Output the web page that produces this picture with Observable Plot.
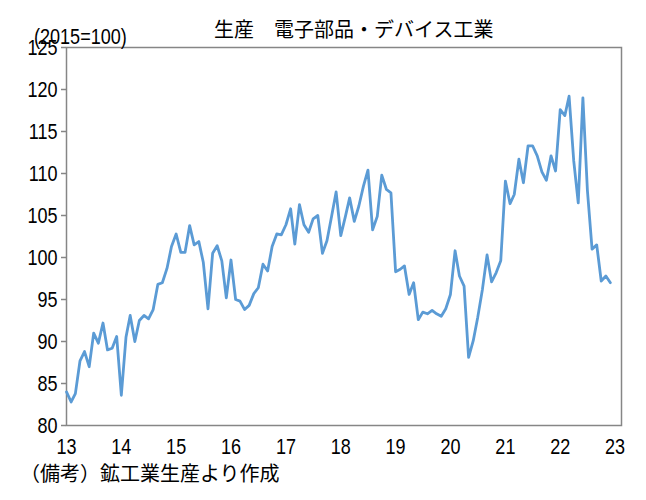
<!DOCTYPE html>
<html>
<head>
<meta charset="utf-8">
<script src="https://cdn.jsdelivr.net/npm/d3@7"></script>
<script src="https://cdn.jsdelivr.net/npm/@observablehq/plot@0.6"></script>
<style>
  html, body { margin: 0; padding: 0; background: #fff; }
  #wrap { position: relative; width: 646px; height: 500px; overflow: hidden; }
  #chart { position: absolute; left: 0; top: 0; }
  .txt { position: absolute; line-height: 1; white-space: nowrap; color: #000; }
  #title { left: 214px; top: 14px; font: 20px "Noto Sans CJK JP", sans-serif; }
  #unit { left: 34px; top: 24px; font: 22px "Liberation Sans", sans-serif; transform: scaleX(0.82); transform-origin: left center; }
  #caption { left: 20px; top: 458px; font: 20px "Noto Sans CJK JP", sans-serif; }
</style>
</head>
<body>
<div id="wrap">
  <div id="chart"></div>
  <div class="txt" id="title"></div>
  <div class="txt" id="unit"></div>
  <div class="txt" id="caption"></div>
</div>
<script>
const titleText = "生産　電子部品・デバイス工業";
const unitText = "(2015=100)";
const captionText = "（備考）鉱工業生産より作成";

const startYear = 2013;
const values2013 = [84.0, 82.8, 83.8, 87.7, 88.8, 87.0, 91.0, 89.8, 92.2, 89.0, 89.2, 90.6];
const values2014 = [83.6, 90.5, 93.1, 90.0, 92.5, 93.1, 92.7, 93.8, 96.8, 97.0, 98.7, 101.3];
const values2015 = [102.8, 100.6, 100.6, 103.8, 101.5, 101.9, 99.4, 93.9, 100.5, 101.4, 99.6, 95.2];
const values2016 = [99.7, 95.0, 94.8, 93.8, 94.3, 95.7, 96.4, 99.2, 98.4, 101.3, 102.8, 102.7];
const values2017 = [103.9, 105.8, 101.6, 106.3, 103.9, 103.0, 104.6, 105.0, 100.5, 102.0, 104.9, 107.8];
const values2018 = [102.6, 104.9, 107.1, 104.3, 106.1, 108.5, 110.4, 103.3, 104.9, 109.8, 108.1, 107.7];
const values2019 = [98.3, 98.6, 99.0, 95.6, 97.0, 92.6, 93.5, 93.3, 93.7, 93.3, 93.0, 93.9];
const values2020 = [95.6, 100.8, 97.8, 96.6, 88.1, 90.1, 92.9, 96.2, 100.3, 97.1, 98.2, 99.6];
const values2021 = [109.1, 106.4, 107.5, 111.7, 108.9, 113.3, 113.3, 112.1, 110.2, 109.2, 112.1, 110.3];
const values2022 = [117.6, 116.9, 119.2, 111.5, 106.5, 119.0, 108.0, 101.0, 101.5, 97.2, 97.8, 97.0];

const yTicks = [80, 85, 90, 95, 100, 105, 110, 115, 120, 125];
const xTickYears = [13, 14, 15, 16, 17, 18, 19, 20, 21, 22, 23];

const allValues = [values2013, values2014, values2015, values2016, values2017,
  values2018, values2019, values2020, values2021, values2022].flat();
const data = allValues.map((v, i) => ({date: new Date(Date.UTC(startYear, i, 1)), value: v}));
const xTicks = xTickYears.map(y => new Date(Date.UTC(2000 + y, 0, 1)));

document.getElementById("title").textContent = titleText;
document.getElementById("unit").textContent = unitText;
document.getElementById("caption").textContent = captionText;

const chart = Plot.plot({
  width: 646,
  height: 500,
  marginLeft: 66,
  marginRight: 25,
  marginTop: 47,
  marginBottom: 75,
  style: {fontFamily: '"Liberation Sans", sans-serif', fontSize: "22px", color: "#000", background: "#fff"},
  x: {
    type: "utc",
    domain: [new Date(Date.UTC(2013, 0, 1)), new Date(Date.UTC(2023, 1, 13))],
    label: null
  },
  y: {
    domain: [80, 125],
    label: null
  },
  marks: [
    Plot.frame({stroke: "#868686", strokeWidth: 1.5}),
    Plot.axisY({ticks: yTicks, tickSize: 5, tickPadding: 4, stroke: "#868686", strokeWidth: 1.5, label: null}),
    Plot.axisX({ticks: xTicks, tickSize: 0, tickPadding: 13, tickFormat: d => String(d.getUTCFullYear() % 100), label: null}),
    Plot.line(data, {x: "date", y: "value", stroke: "#5B9BD5", strokeWidth: 2.8, strokeLinejoin: "round"})
  ]
});

// narrow the numeric tick labels horizontally, keeping each anchor in place
d3.select(chart).selectAll("g[aria-label='x-axis tick label'] text, g[aria-label='y-axis tick label'] text")
  .each(function() {
    const xa = this.getAttribute("x");
    let extra = "";
    if (xa !== null && !/em$/.test(xa) && isFinite(+xa)) {
      extra = ` translate(${+xa},0)`;
      this.removeAttribute("x");
    }
    const t = this.getAttribute("transform") || "";
    this.setAttribute("transform", `${t}${extra} scale(0.82,1)`);
  });

document.getElementById("chart").appendChild(chart);
</script>
</body>
</html>
